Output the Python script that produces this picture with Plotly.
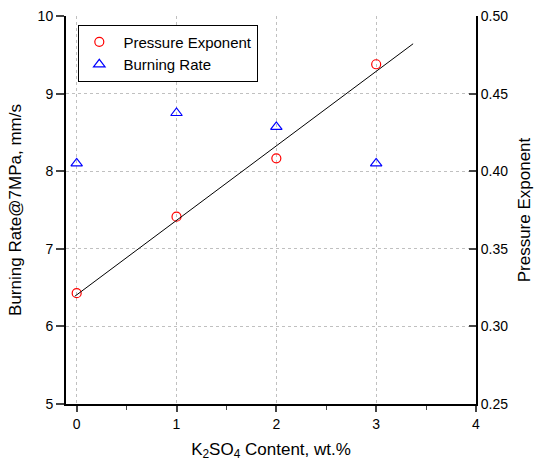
import numpy as np
import plotly.graph_objects as go

# ---- data ----
k2so4 = [0, 1, 2, 3]
pressure_exponent = [0.3214, 0.3707, 0.4083, 0.4689]
burning_rate = [8.10, 8.75, 8.57, 8.10]
fit_x_extent = [-0.02, 3.37]

x_ticks = [0, 1, 2, 3, 4]
y_ticks = [5, 6, 7, 8, 9, 10]
y2_ticks = [0.25, 0.30, 0.35, 0.40, 0.45, 0.50]

slope, intercept = np.polyfit(k2so4, pressure_exponent, 1)
fit_x = np.array(fit_x_extent)
fit_y = slope * fit_x + intercept

FONT = "Liberation Sans, Arial, sans-serif"
GRID = "#c0c0c0"
GRIDDASH = "dot"

fig = go.Figure()
fig.add_trace(go.Scatter(
    x=k2so4, y=pressure_exponent, mode="markers", name=" Pressure Exponent",
    yaxis="y2",
    marker=dict(symbol="circle-open", color="red", size=9, line=dict(width=1.2)),
))
fig.add_trace(go.Scatter(
    x=k2so4, y=burning_rate, mode="markers", name=" Burning Rate",
    marker=dict(symbol="triangle-up-open", color="blue", size=10, line=dict(width=1.2)),
))
fig.add_trace(go.Scatter(
    x=fit_x, y=fit_y, mode="lines", yaxis="y2", showlegend=False,
    line=dict(color="black", width=1),
))

fig.update_layout(
    width=534, height=466,
    margin=dict(l=66, r=58, t=16, b=62, autoexpand=False),
    paper_bgcolor="white", plot_bgcolor="white",
    font=dict(family=FONT, size=14, color="black"),
    showlegend=True,
    legend=dict(
        x=0.03, y=0.978, xanchor="left", yanchor="top",
        bordercolor="black", borderwidth=1, bgcolor="white",
        font=dict(family=FONT, size=15),
        tracegroupgap=0, itemwidth=30,
    ),
    xaxis=dict(
        range=[-0.107, 4], tickvals=x_ticks, ticks="outside", ticklen=6, tickwidth=1.5,
        showline=True, linecolor="black", linewidth=2, automargin=False,
        showgrid=True, gridcolor=GRID, griddash=GRIDDASH, gridwidth=1,
        zeroline=False,
        minor=dict(dtick=0.5, ticks="outside", ticklen=4, tickwidth=1.2, showgrid=False),
        title=dict(text="K<sub>2</sub>SO<sub>4</sub> Content, wt.%", font=dict(size=17), standoff=12),
        tickfont=dict(size=14),
    ),
    xaxis2=dict(
        overlaying="x", matches="x", side="top", range=[-0.107, 4],
        dtick=0.5, tick0=0, ticks="inside", ticklen=4, tickwidth=1.5,
        showticklabels=False, showline=True, linecolor="black", linewidth=2,
        showgrid=False, zeroline=False, automargin=False,
    ),
    yaxis=dict(
        range=[5, 10], tickvals=y_ticks, ticks="outside", ticklen=8, tickwidth=1.5,
        showline=True, linecolor="black", linewidth=2, automargin=False,
        showgrid=True, gridcolor=GRID, griddash=GRIDDASH, gridwidth=1,
        zeroline=False,
        title=dict(text="Burning Rate@7MPa, mm/s", font=dict(size=17), standoff=12),
        tickfont=dict(size=14),
    ),
    yaxis2=dict(
        overlaying="y", side="right", range=[0.25, 0.50], tickvals=y2_ticks,
        tickformat=".2f", ticks="inside", ticklen=7, tickwidth=2,
        showline=True, linecolor="black", linewidth=2, automargin=False,
        showgrid=False, zeroline=False,
        title=dict(text="Pressure Exponent", font=dict(size=17), standoff=24),
        tickfont=dict(size=14),
    ),
)

fig.write_html("out.html", config={"displayModeBar": False},
               post_script="document.body.style.margin='0px';")
